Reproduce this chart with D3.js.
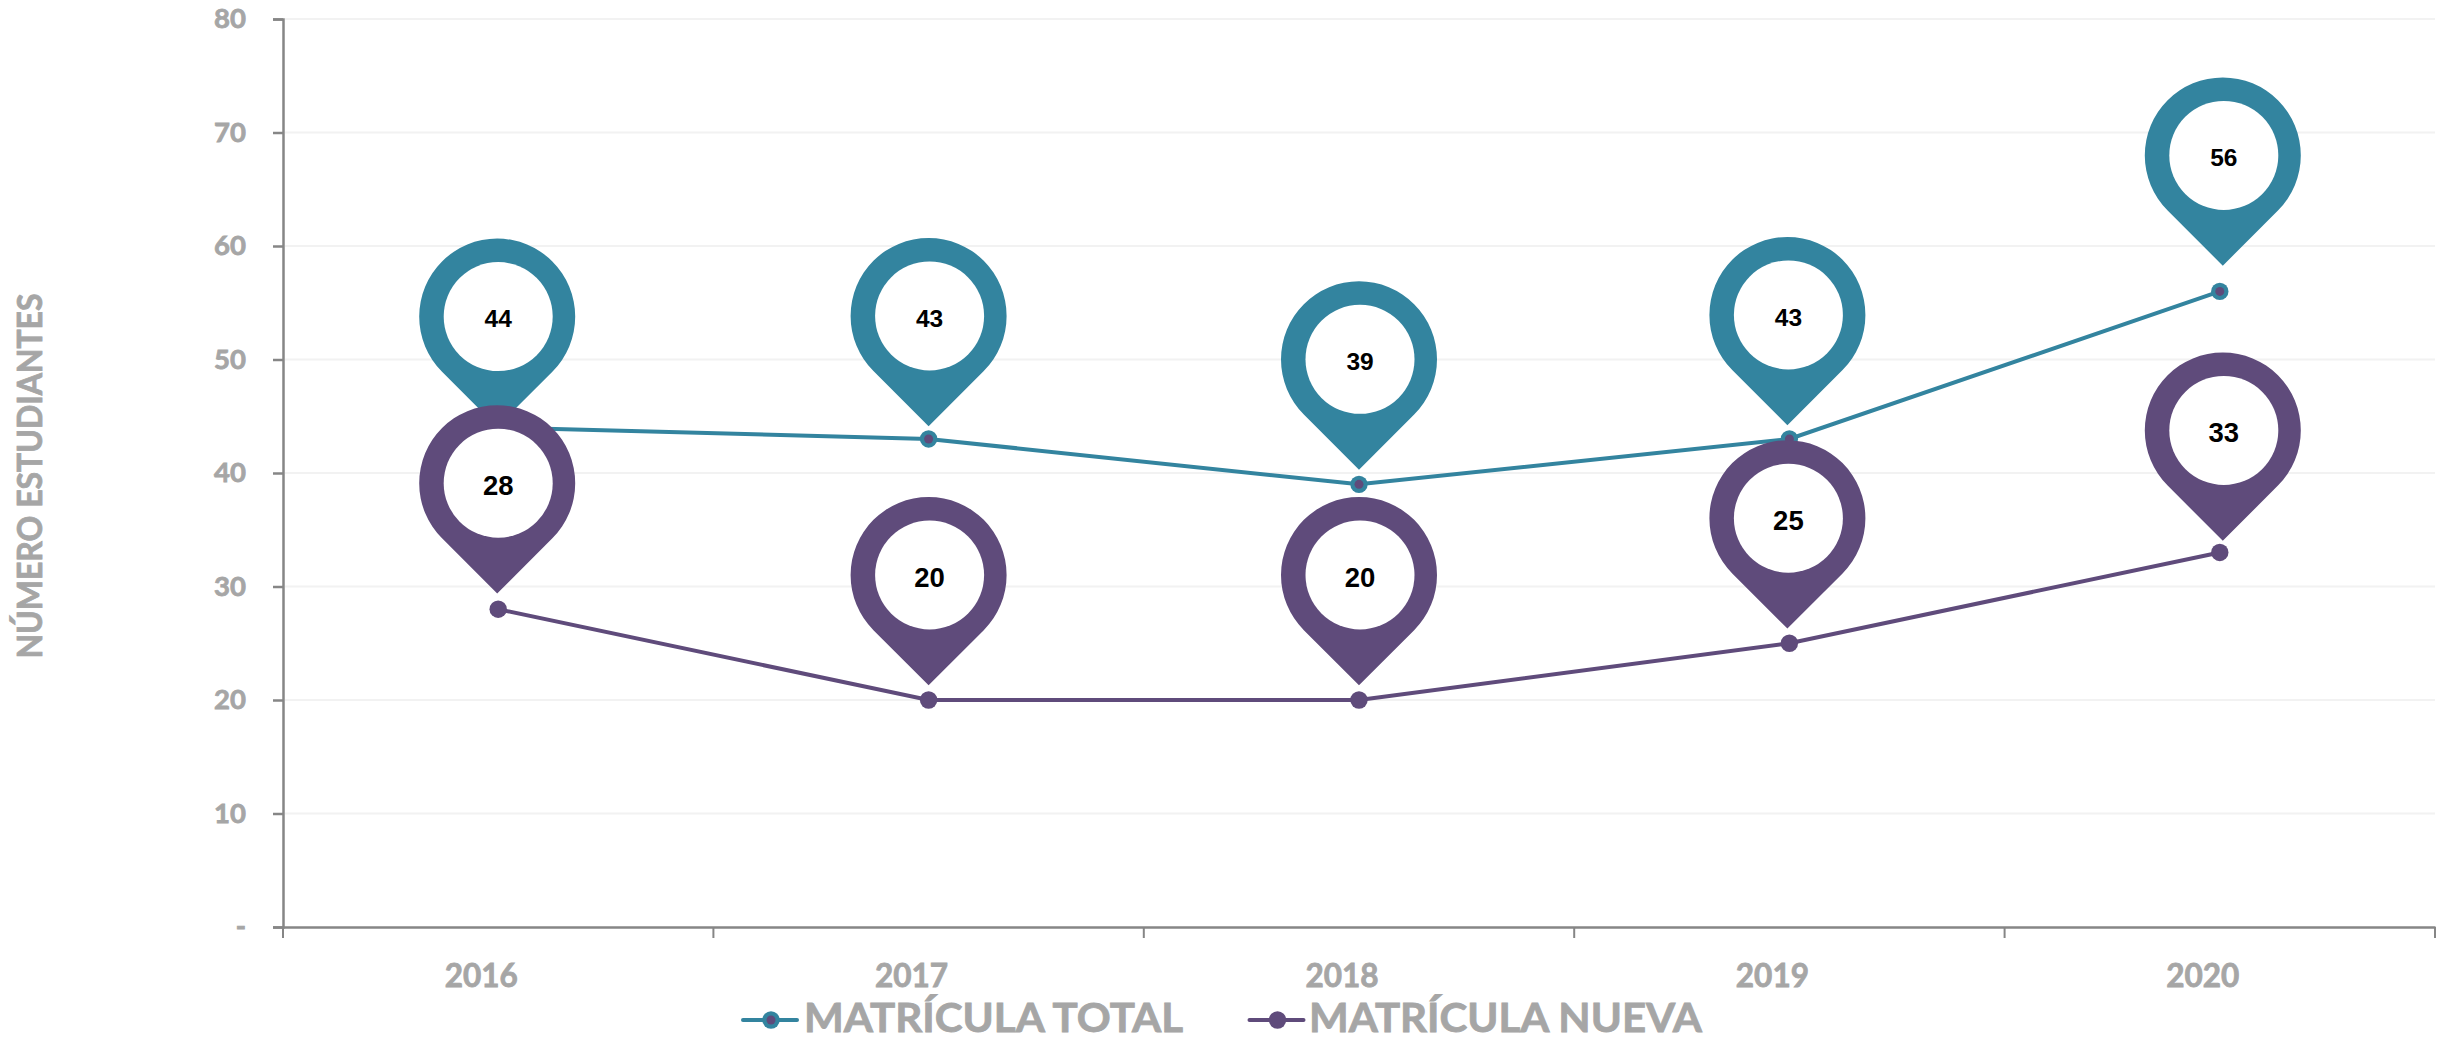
<!DOCTYPE html>
<html><head><meta charset="utf-8">
<script src="https://cdnjs.cloudflare.com/ajax/libs/d3/7.8.5/d3.min.js"></script>
<style>html,body{margin:0;background:#fff}svg{display:block}text{font-family:Lato,sans-serif;font-weight:700}.thick{stroke:#A6A6A6;stroke-width:.8px}</style>
</head><body><svg id="c" width="2441" height="1040"></svg>
<script>
const years = ["2016","2017","2018","2019","2020"];
const total = [44,43,39,43,56];
const nueva = [28,20,20,25,33];
const yTicks = [0,10,20,30,40,50,60,70,80];
const seriesNames = ["MATRÍCULA TOTAL","MATRÍCULA NUEVA"];
const teal="#33849F", purple="#5F4B7B", grey="#A6A6A6", axisC="#868686";
// pin head centres relative to the data point (dx, dy in px)
const tealPinOffset = [[-1,-111],[0,-123],[0,-125],[-2,-124],[3,-136]];
const purplePinOffset = [[-1,-126],[0,-125],[0,-125],[-2,-125],[3,-122]];

const svg=d3.select("#c");
const L=283,R=2435,T=19,B=927;
const x=d3.scaleBand().domain(years).range([L,R]);
const y=d3.scaleLinear().domain([0,80]).range([B,T]);
const cx=d=>x(d)+x.bandwidth()/2;

// grid
svg.append("g").selectAll("line").data(yTicks.slice(1)).join("line")
 .attr("x1",L+2).attr("x2",R).attr("y1",d=>y(d)).attr("y2",d=>y(d))
 .attr("stroke","#F2F2F2").attr("stroke-width",2);

// axes
const ay=svg.append("g").attr("transform",`translate(${L},0)`)
 .call(d3.axisLeft(y).tickValues(yTicks).tickSize(10).tickPadding(27).tickFormat(d=>d===0?"-":d));
ay.selectAll("path").attr("stroke",axisC).attr("stroke-width",2.5);
ay.selectAll("line").attr("stroke",axisC).attr("stroke-width",2.5);
ay.selectAll("text").attr("fill",grey).attr("class","thick").style("font-size","27.5px").attr("dy","0.32em");

const ax=svg.append("g").attr("transform",`translate(0,${B})`)
 .call(d3.axisBottom(x).tickValues([]).tickSizeOuter(0));
ax.select("path").attr("stroke",axisC).attr("stroke-width",2.5);
ax.selectAll("line.t").data(d3.range(years.length+1)).join("line").attr("class","t")
 .attr("x1",i=>L+i*x.bandwidth()).attr("x2",i=>L+i*x.bandwidth())
 .attr("y1",0).attr("y2",11).attr("stroke",axisC).attr("stroke-width",2);
svg.append("g").selectAll("text").data(years).join("text")
 .attr("x",d=>cx(d)-17).attr("y",986.5).attr("text-anchor","middle").attr("class","thick")
 .attr("fill",grey).style("font-size","31.5px").text(d=>d);

// axis title
svg.append("text").attr("transform","translate(42,476) rotate(-90)").attr("class","thick")
 .attr("text-anchor","middle").attr("fill",grey).style("font-size","34px")
 .attr("textLength",365).attr("lengthAdjust","spacingAndGlyphs").text("NÚMERO ESTUDIANTES");

// lines
const line=d3.line().x(d=>cx(d.k)).y(d=>y(d.v));
const rows=a=>a.map((v,i)=>({k:years[i],v}));
[[total,teal],[nueva,purple]].forEach(([a,c])=>{
 svg.append("path").datum(rows(a)).attr("d",line).attr("fill","none").attr("stroke",c).attr("stroke-width",4);
});
svg.append("g").selectAll("circle").data(rows(total)).join("circle")
 .attr("cx",d=>cx(d.k)).attr("cy",d=>y(d.v)).attr("r",8.7).attr("fill",teal);
svg.append("g").selectAll("circle").data(rows(total)).join("circle")
 .attr("cx",d=>cx(d.k)).attr("cy",d=>y(d.v)).attr("r",4.5).attr("fill",purple);
svg.append("g").selectAll("circle").data(rows(nueva)).join("circle")
 .attr("cx",d=>cx(d.k)).attr("cy",d=>y(d.v)).attr("r",8.7).attr("fill",purple);

// pins
const Ro=78,Ri=54.5,tip=Ro*Math.SQRT2;
const pinPath=()=>{
 const p=d3.path();
 p.moveTo(0,tip);
 p.lineTo(-Ro*Math.SQRT1_2,Ro*Math.SQRT1_2);
 p.arc(0,0,Ro,Math.PI*0.75,Math.PI*0.25,false);
 p.closePath();
 return p.toString();
};
function pins(a,off,c,fs){
 const g=svg.append("g").selectAll("g").data(rows(a)).join("g")
  .attr("transform",(d,i)=>`translate(${cx(d.k)+off[i][0]},${y(d.v)+off[i][1]})`);
 g.append("path").attr("d",pinPath()).attr("fill",c);
 g.append("circle").attr("cx",1).attr("r",Ri).attr("fill","#fff");
 g.append("text").attr("x",1).attr("y",2).attr("text-anchor","middle").attr("dy","0.36em")
  .style("font-family","'Liberation Sans',Arial,sans-serif").style("font-size",fs+"px").attr("fill","#000").text(d=>d.v);
}
pins(total,tealPinOffset,teal,24.5);
pins(nueva,purplePinOffset,purple,27.5);

// legend
const leg=[{n:seriesNames[0],c:teal,lx:743,tx:804,len:379,inner:true},{n:seriesNames[1],c:purple,lx:1249.5,tx:1309,len:393,inner:false}];
const lg=svg.append("g").selectAll("g").data(leg).join("g");
lg.append("line").attr("x1",d=>d.lx).attr("x2",d=>d.lx+54).attr("y1",1020).attr("y2",1020).attr("stroke",d=>d.c).attr("stroke-width",4).attr("stroke-linecap","round");
lg.append("circle").attr("cx",d=>d.lx+28).attr("cy",1020).attr("r",8.7).attr("fill",d=>d.c);
lg.filter(d=>d.inner).append("circle").attr("cx",d=>d.lx+28).attr("cy",1020).attr("r",4.5).attr("fill",purple);
lg.append("text").attr("x",d=>d.tx).attr("y",1031.5).attr("fill",grey).attr("class","thick").style("font-size","40px")
 .attr("textLength",d=>d.len).attr("lengthAdjust","spacingAndGlyphs").text(d=>d.n);
</script></body></html>
